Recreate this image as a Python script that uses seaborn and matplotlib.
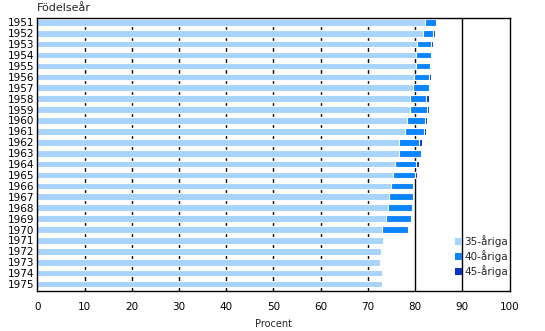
import matplotlib
matplotlib.use("Agg")
import matplotlib.pyplot as plt
import matplotlib.patches as mpatches
import seaborn as sns
import pandas as pd
import numpy as np

years = [str(y) for y in range(1951, 1976)]
v35 = [82.0, 81.6, 80.5, 80.3, 80.3, 79.7, 79.5, 78.9, 78.9, 78.2, 77.8, 76.7, 76.7,
       75.7, 75.3, 74.8, 74.4, 74.2, 73.8, 72.9, 73.3, 72.7, 72.5, 72.9, 72.9]
v40 = [84.4, 83.7, 83.3, 83.3, 83.2, 83.0, 82.9, 82.4, 82.5, 82.2, 81.8, 80.9, 81.2,
       80.3, 80.0, 79.6, 79.6, 79.4, 79.2, 78.4, None, None, None, None, None]
v45 = [84.7, 84.3, 83.9, 83.6, None, 83.4, 83.2, 83.0, 83.0, 82.6, 82.4, 81.5, 81.5,
       80.9, 80.5, None, None, None, None, None, None, None, None, None, None]
series = ["35-åriga", "40-åriga", "45-åriga"]
colors = {"35-åriga": "#A8D3FB", "40-åriga": "#0A84FF", "45-åriga": "#0A30C4"}

df = pd.DataFrame({"year": years, "35-åriga": v35, "40-åriga": v40, "45-åriga": v45})

sns.set_style("white")
plt.rcParams["font.family"] = ["DejaVu Sans"]

fig = plt.figure(figsize=(5.45, 3.31), dpi=100)
ax = fig.add_axes([37.3 / 545, 1 - 291 / 331, (509.5 - 37.3) / 545, (291 - 18.3) / 331])

for s in ["45-åriga", "40-åriga", "35-åriga"]:
    d = df[["year", s]].dropna()
    sns.barplot(data=d, x=s, y="year", order=years, orient="h", color=colors[s],
                width=0.61, edgecolor="white", linewidth=0.8, saturation=1,
                ax=ax, zorder=3)

ax.set_xlim(0, 100)
ax.set_ylim(24 + 0.64, -0.37)
ax.set_xticks(np.arange(0, 101, 10))
for xv in range(10, 100, 10):
    ax.axvline(xv, color="black", linewidth=1.0, zorder=1)

for sp in ax.spines.values():
    sp.set_visible(True)
    sp.set_color("black")
    sp.set_linewidth(1.0)
    sp.set_zorder(5)

ax.tick_params(axis="both", length=0, labelsize=7.5, colors="black")
ax.tick_params(axis="x", pad=8)
ax.tick_params(axis="y", pad=2)
ax.set_ylabel("")
ax.set_xlabel("Procent", fontsize=7, labelpad=5)
ax.grid(False)

fig.text(37.3 / 545, 1 - 8 / 331, "Födelseår", fontsize=8, ha="left", va="center")

handles = [mpatches.Patch(facecolor=colors[s], edgecolor="none", label=s) for s in series]
leg = ax.legend(handles=handles, loc="upper left", bbox_to_anchor=(0.885, 0.205),
                frameon=False, fontsize=7.5, handlelength=0.65, handleheight=0.65,
                handletextpad=0.2, labelspacing=0.3, borderaxespad=0, borderpad=0)
leg.set_zorder(10)

fig.savefig("out.png", dpi=100)
